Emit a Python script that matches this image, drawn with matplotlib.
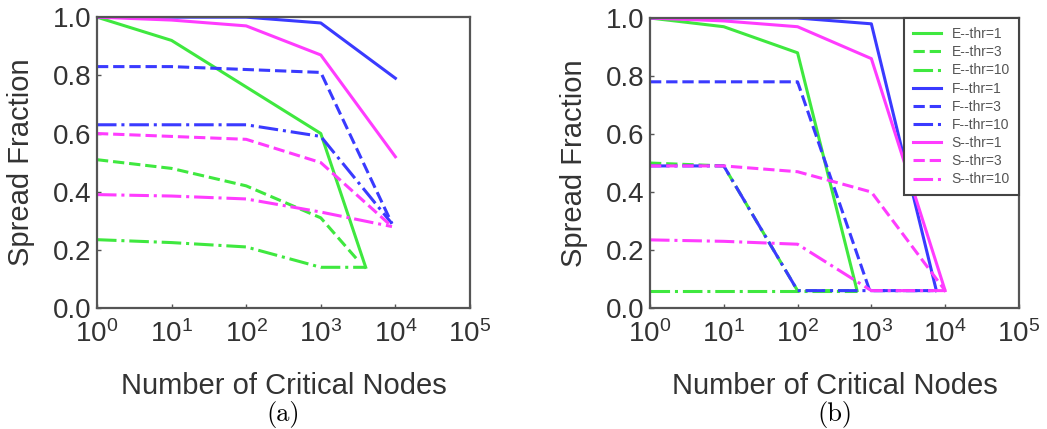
import matplotlib
matplotlib.use("Agg")
from matplotlib import pyplot as plt

plt.rcParams.update({
    'font.family': 'Liberation Sans',
    'mathtext.fontset': 'custom',
    'mathtext.rm': 'Liberation Sans',
    'mathtext.it': 'Liberation Sans',
    'mathtext.bf': 'Liberation Sans',
    'font.size': 19,
    'axes.labelsize': 21,
    'xtick.labelsize': 20,
    'ytick.labelsize': 20,
    'legend.fontsize': 10,
})

GREEN = '#3fe83f'
BLUE = '#3a3aff'
MAGENTA = '#ff3cff'
TEXT = '#333333'

labels = ['E--thr=1', 'E--thr=3', 'E--thr=10',
          'F--thr=1', 'F--thr=3', 'F--thr=10',
          'S--thr=1', 'S--thr=3', 'S--thr=10']
colors = [GREEN] * 3 + [BLUE] * 3 + [MAGENTA] * 3
styles = ['-', '--', '-.'] * 3

# panel (a)
a_E1_x = [1, 10, 100, 1000, 4000]
a_E1_y = [1.0, 0.92, 0.76, 0.60, 0.14]
a_E3_x = [1, 10, 100, 1000, 3000]
a_E3_y = [0.51, 0.48, 0.42, 0.31, 0.17]
a_E10_x = [1, 10, 100, 1000, 4000]
a_E10_y = [0.235, 0.225, 0.21, 0.14, 0.14]
a_F1_x = [1, 10, 100, 1000, 10000]
a_F1_y = [1.0, 1.0, 1.0, 0.98, 0.79]
a_F3_x = [1, 10, 100, 1000, 9000]
a_F3_y = [0.83, 0.83, 0.82, 0.81, 0.29]
a_F10_x = [1, 10, 100, 1000, 9000]
a_F10_y = [0.63, 0.63, 0.63, 0.59, 0.29]
a_S1_x = [1, 10, 100, 1000, 10000]
a_S1_y = [1.0, 0.99, 0.97, 0.87, 0.52]
a_S3_x = [1, 10, 100, 1000, 9000]
a_S3_y = [0.60, 0.59, 0.58, 0.50, 0.28]
a_S10_x = [1, 10, 100, 1000, 9000]
a_S10_y = [0.39, 0.385, 0.375, 0.33, 0.28]

# panel (b)
b_E1_x = [1, 10, 100, 640]
b_E1_y = [1.0, 0.97, 0.88, 0.06]
b_E3_x = [1, 10, 100, 640]
b_E3_y = [0.50, 0.49, 0.06, 0.06]
b_E10_x = [1, 10, 100, 640]
b_E10_y = [0.06, 0.06, 0.06, 0.06]
b_F1_x = [1, 10, 100, 1000, 7600]
b_F1_y = [1.0, 1.0, 1.0, 0.98, 0.06]
b_F3_x = [1, 10, 100, 950, 7600]
b_F3_y = [0.78, 0.78, 0.78, 0.06, 0.06]
b_F10_x = [1, 10, 100, 1000, 7600]
b_F10_y = [0.49, 0.49, 0.06, 0.06, 0.06]
b_S1_x = [1, 10, 100, 1000, 10000]
b_S1_y = [1.0, 0.99, 0.97, 0.86, 0.06]
b_S3_x = [1, 10, 100, 1000, 10000]
b_S3_y = [0.49, 0.49, 0.47, 0.40, 0.06]
b_S10_x = [1, 10, 100, 1000, 10000]
b_S10_y = [0.235, 0.23, 0.22, 0.06, 0.06]

panel_a = [(a_E1_x, a_E1_y), (a_E3_x, a_E3_y), (a_E10_x, a_E10_y),
           (a_F1_x, a_F1_y), (a_F3_x, a_F3_y), (a_F10_x, a_F10_y),
           (a_S1_x, a_S1_y), (a_S3_x, a_S3_y), (a_S10_x, a_S10_y)]
panel_b = [(b_E1_x, b_E1_y), (b_E3_x, b_E3_y), (b_E10_x, b_E10_y),
           (b_F1_x, b_F1_y), (b_F3_x, b_F3_y), (b_F10_x, b_F10_y),
           (b_S1_x, b_S1_y), (b_S3_x, b_S3_y), (b_S10_x, b_S10_y)]

fig = plt.figure(figsize=(10.47, 4.29), dpi=100)
ax_a = fig.add_axes([0.0926, 0.282, 0.3563, 0.678])
ax_b = fig.add_axes([0.6208, 0.282, 0.3524, 0.676])


def draw_panel(ax, series, tag, legend=False):
    for (xs, ys), lab, c, ls in zip(series, labels, colors, styles):
        ax.plot(xs, ys, color=c, linestyle=ls, linewidth=2.2, label=lab)
    ax.set_xscale('log')
    ax.set_xlim(1, 1e5)
    ax.set_ylim(0, 1)
    ax.set_xticks([1, 10, 100, 1000, 1e4, 1e5])
    ax.set_yticks([0, 0.2, 0.4, 0.6, 0.8, 1.0])
    ax.set_yticklabels(['0.0', '0.2', '0.4', '0.6', '0.8', '1.0'])
    ax.minorticks_off()
    ax.tick_params(direction='in', length=3, width=1, colors='#555555',
                   labelcolor=TEXT, top=False, right=False)
    ax.tick_params(axis='x', pad=9)
    ax.tick_params(axis='y', pad=4)
    for sp in ax.spines.values():
        sp.set_color('#555555')
        sp.set_linewidth(1.6)
    ax.set_xlabel('Number of Critical Nodes', color=TEXT, labelpad=17)
    ax.set_ylabel('Spread Fraction', color=TEXT, labelpad=13)
    ax.text(0.5, -0.367, tag, transform=ax.transAxes, ha='center', va='center',
            fontsize=19, family='cmr10', color='black')
    if legend:
        leg = ax.legend(loc='upper right', borderaxespad=0, fancybox=False,
                        framealpha=1, labelcolor='#555555', labelspacing=0.3,
                        borderpad=0.65)
        leg.get_frame().set_edgecolor('#444444')
        leg.get_frame().set_linewidth(1.5)


draw_panel(ax_a, panel_a, '(a)')
draw_panel(ax_b, panel_b, '(b)', legend=True)

fig.savefig('out.png', dpi=100)
